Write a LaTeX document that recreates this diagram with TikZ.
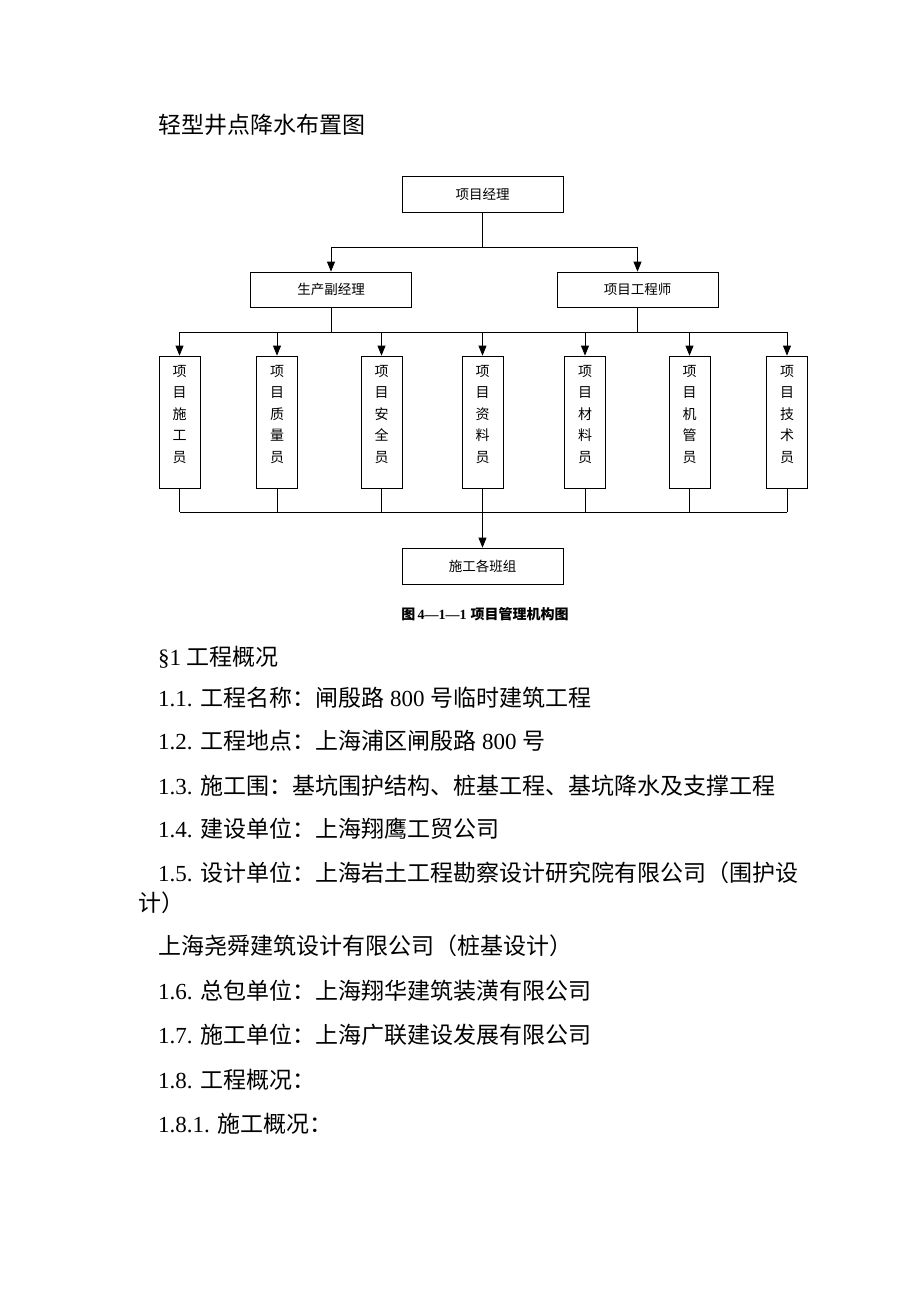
\documentclass[tikz,border=0pt]{standalone}
\usepackage{fontspec}
\setmainfont{Liberation Serif}
\newfontfamily\cjk{Noto Sans CJK SC}
\usetikzlibrary{arrows.meta}
\newcommand\zh[1]{{\cjk #1}}
\begin{document}
\begin{tikzpicture}[x=1pt,y=-1pt]
            \tikzstyle{boite}=[draw,line width=0.8pt,minimum width=161pt,minimum height=36pt,inner sep=0pt,font=\cjk\fontsize{13.5}{16}\selectfont]
            \tikzstyle{colonne}=[draw,line width=0.8pt,minimum width=41pt,minimum height=132pt,inner sep=0pt,align=center,font=\cjk\fontsize{14}{21.5}\selectfont]
            \tikzstyle{trait}=[line width=0.8pt]
            \tikzstyle{fleche}=[line width=0.8pt,-{Triangle[length=10pt,width=8pt]}]
            \tikzstyle{texte}=[anchor=west,inner sep=0pt,font=\fontsize{23}{27}\selectfont]
            \fill[white] (0,0) rectangle (920,1302);
            \useasboundingbox (0,0) rectangle (920,1302);
            \node[texte,font=\cjk\fontsize{23}{27}\selectfont] (titre) at (158,125) {轻型井点降水布置图};
            \node[boite] (pm) at (482.5,194) {项目经理};
            \node[boite,minimum height=35pt] (fz) at (331,289.5) {生产副经理};
            \node[boite,minimum height=35pt] (gcs) at (637.5,289.5) {项目工程师};
            \node[colonne] (s1) at (179.5,422) {项\\目\\施\\工\\员\\[-5pt]{}};
            \node[colonne] (s2) at (277,422) {项\\目\\质\\量\\员\\[-5pt]{}};
            \node[colonne] (s3) at (381.5,422) {项\\目\\安\\全\\员\\[-5pt]{}};
            \node[colonne] (s4) at (482.5,422) {项\\目\\资\\料\\员\\[-5pt]{}};
            \node[colonne] (s5) at (585,422) {项\\目\\材\\料\\员\\[-5pt]{}};
            \node[colonne] (s6) at (689.5,422) {项\\目\\机\\管\\员\\[-5pt]{}};
            \node[colonne] (s7) at (787,422) {项\\目\\技\\术\\员\\[-5pt]{}};
            \node[boite] (bz) at (482.5,566) {施工各班组};
            \coordinate (h) at (482.5,247);
            \coordinate (m) at (482.5,332);
            \coordinate (b) at (482.5,512);
            \draw[trait] (pm) -- (h);
            \draw[fleche] (h) -| (fz);
            \draw[fleche] (h) -| (gcs);
            \draw[trait] (fz) -- (fz |- m);
            \draw[trait] (gcs) -- (gcs |- m);
            \draw[trait] (s1 |- m) -- (s7 |- m);
            \foreach \i in {1,...,7} \draw[fleche] (s\i |- m) -- (s\i);
            \foreach \i in {1,...,7} \draw[trait] (s\i) -- (s\i |- b);
            \draw[trait] (s1 |- b) -- (s7 |- b);
            \draw[fleche] (s4 |- b) -- (bz);
            \node[font=\bfseries\fontsize{14}{16}\selectfont] (leg) at (485,614) {\zh{图}\,4—1—1\;\zh{项目管理机构图}};
            \node[texte] (t0) at (158,657) {§1 \zh{工程概况}};
            \node[texte] (t1) at (158,698) {1.1. \zh{工程名称：闸殷路} 800 \zh{号临时建筑工程}};
            \node[texte] (t2) at (158,741) {1.2. \zh{工程地点：上海浦区闸殷路} 800 \zh{号}};
            \node[texte] (t3) at (158,786) {1.3. \zh{施工围：基坑围护结构、桩基工程、基坑降水及支撑工程}};
            \node[texte] (t4) at (158,829) {1.4. \zh{建设单位：上海翔鹰工贸公司}};
            \node[texte] (t5) at (158,873) {1.5. \zh{设计单位：上海岩土工程勘察设计研究院有限公司（围护设}};
            \node[texte] (t5b) at (138,903) {\zh{计）}};
            \node[texte] (t5c) at (158,946) {\zh{上海尧舜建筑设计有限公司（桩基设计）}};
            \node[texte] (t6) at (158,991) {1.6. \zh{总包单位：上海翔华建筑装潢有限公司}};
            \node[texte] (t7) at (158,1035) {1.7. \zh{施工单位：上海广联建设发展有限公司}};
            \node[texte] (t8) at (158,1080) {1.8. \zh{工程概况：}};
            \node[texte] (t81) at (158,1124) {1.8.1. \zh{施工概况：}};
\end{tikzpicture}
\end{document}
